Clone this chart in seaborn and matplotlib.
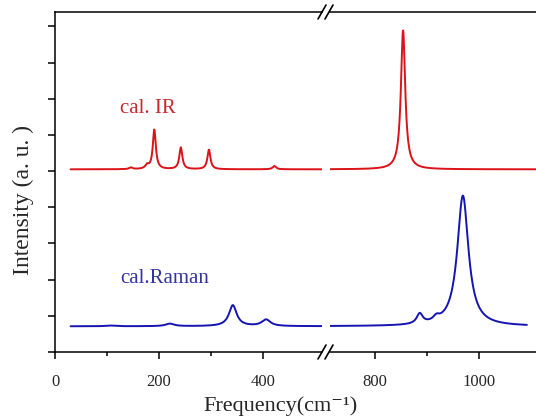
import numpy as np
import pandas as pd
import matplotlib.pyplot as plt
from matplotlib.lines import Line2D
import seaborn as sns

# calculated IR bands: position (cm-1), height (a.u.), FWHM (cm-1)
ir_pos = [146, 177, 191, 242, 296, 422, 854]
ir_height = [0.045, 0.10, 1.09, 0.60, 0.54, 0.09, 3.84]
ir_fwhm = [8, 8, 7, 7, 7, 8, 10]
ir_offset = 5.05

# calculated Raman bands
raman_pos = [106, 221, 342, 406, 886, 918, 969]
raman_height = [0.02, 0.07, 0.58, 0.18, 0.28, 0.12, 3.61]
raman_fwhm = [20, 20, 18, 20, 14, 14, 26]
raman_offset = 0.71

# frequency span covered by each spectrum segment
left_span = (30, 513)
right_span_ir = (714, 1120)
right_span_raman = (714, 1092)

red = "#dc1219"
blue = "#1414b0"


def spectrum(lo, hi, pos, height, fwhm, offset):
    # lorentzian broadening of the stick spectrum
    x = np.linspace(lo, hi, 3000)
    y = np.full_like(x, offset)
    for p, h, w in zip(pos, height, fwhm):
        y += h / (1 + ((x - p) / (w / 2)) ** 2)
    return pd.DataFrame({"freq": x, "inten": y})


sns.set_style("ticks")
plt.rcParams["font.family"] = ["Liberation Serif", "DejaVu Serif"]

fig = plt.figure(figsize=(5.36, 4.17), dpi=100)
W, H = 536, 417
axL = fig.add_axes([55 / W, 65 / H, 267 / W, 340 / H])
axR = fig.add_axes([330 / W, 65 / H, 206 / W, 340 / H])

for ax, span_ir, span_ra in [(axL, left_span, left_span),
                             (axR, right_span_ir, right_span_raman)]:
    d = spectrum(*span_ir, ir_pos, ir_height, ir_fwhm, ir_offset)
    sns.lineplot(data=d, x="freq", y="inten", ax=ax, color=red, lw=1.4)
    d = spectrum(*span_ra, raman_pos, raman_height, raman_fwhm, raman_offset)
    sns.lineplot(data=d, x="freq", y="inten", ax=ax, color=blue, lw=1.4)
    ax.set_ylim(0, 9.4)
    ax.set_xlabel("")
    ax.set_ylabel("")
    for s in ax.spines.values():
        s.set_linewidth(1.1)
        s.set_color("black")
    ax.tick_params(axis="x", which="major", length=5, width=1.1, pad=11,
                   labelsize=12, color="black")
    ax.tick_params(axis="x", which="minor", length=3, width=1.1, color="black")

axL.set_xlim(0, 513.5)
axL.set_xticks([0, 200, 400])
axL.set_xticks([100, 300], minor=True)
axL.set_yticks(np.arange(0, 10))
axL.set_yticklabels([])
axL.tick_params(axis="y", length=5, width=1.1, color="black")
axL.spines["right"].set_visible(False)

axR.set_xlim(713.5, 1109.6)
axR.set_xticks([800, 1000])
axR.set_xticks([900], minor=True)
axR.set_yticks([])
axR.spines["left"].set_visible(False)
axR.spines["right"].set_visible(False)

# break marks on the top and bottom axis lines
for yb in (352, 12):
    for xc in (322, 329):
        fig.add_artist(Line2D([(xc - 4) / W, (xc + 4) / W],
                              [(H - yb - 7) / H, (H - yb + 7) / H],
                              color="black", lw=1.2))

axL.text(125, 6.6, "cal. IR", color="#c42a2e", fontsize=15)
axL.text(125, 1.92, "cal.Raman", color="#3434a0", fontsize=15)

fig.text(280 / W, 6 / H, "Frequency(cm\u207b\u00b9)", ha="center",
         va="baseline", fontsize=16)
fig.text(23 / W, (H - 200) / H, "Intensity (a. u. )", rotation=90,
         ha="center", va="center", fontsize=17)

fig.savefig("out.png", dpi=100)
